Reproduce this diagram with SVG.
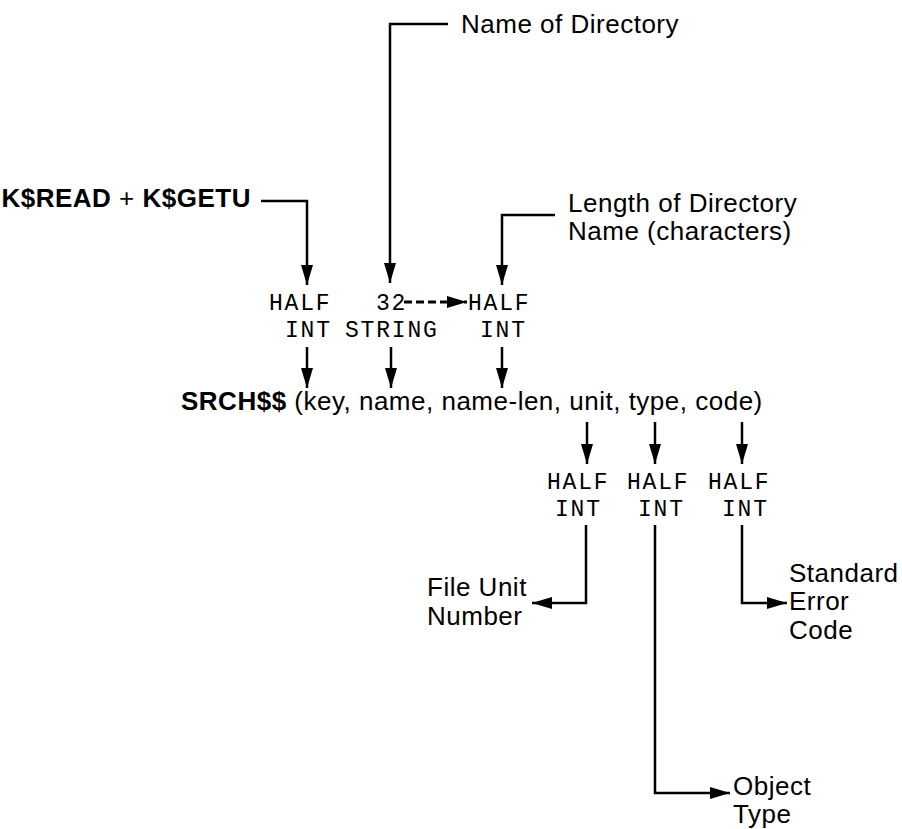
<svg xmlns="http://www.w3.org/2000/svg" width="902" height="829" viewBox="0 0 902 829">
<defs>
<marker id="ah" viewBox="0 0 20 12" refX="20" refY="6" markerWidth="20" markerHeight="12" markerUnits="userSpaceOnUse" orient="auto">
<path d="M0,0 L20,6 L0,12 Z" fill="#000"/>
</marker>
</defs>
<style>
.lbl{font-family:"Liberation Sans",Arial,sans-serif;font-size:26px;fill:#000;letter-spacing:0.5px}
.b{font-weight:bold}
.mono{font-family:"Liberation Mono","Courier New",monospace;font-size:23px;letter-spacing:1.8px;fill:#000}
.ln{fill:none;stroke:#000;stroke-width:2.5}
.dash{fill:none;stroke:#000;stroke-width:3;stroke-dasharray:8,4}
</style>
<rect width="902" height="829" fill="#fff"/>
<g id="connectors">
<path class="ln" d="M448,24 H390 V283" marker-end="url(#ah)"/>
<path class="ln" d="M261,201 H307 V285" marker-end="url(#ah)"/>
<path class="ln" d="M555,215 H502 V285" marker-end="url(#ah)"/>
<path class="dash" d="M404,302 H467" marker-end="url(#ah)"/>
<path class="ln" d="M307,347 V388" marker-end="url(#ah)"/>
<path class="ln" d="M391,347 V388" marker-end="url(#ah)"/>
<path class="ln" d="M502,347 V388" marker-end="url(#ah)"/>
<path class="ln" d="M587,422 V464" marker-end="url(#ah)"/>
<path class="ln" d="M655,422 V464" marker-end="url(#ah)"/>
<path class="ln" d="M742,422 V464" marker-end="url(#ah)"/>
<path class="ln" d="M586,525 V603 H532" marker-end="url(#ah)"/>
<path class="ln" d="M655,525 V793 H730" marker-end="url(#ah)"/>
<path class="ln" d="M742,525 V603 H787" marker-end="url(#ah)"/>
</g>
<g id="name-of-directory"><text class="lbl" x="461" y="33">Name of Directory</text></g>
<g id="kread-kgetu"><text class="lbl b" x="251" y="207" text-anchor="end">K$READ<tspan font-weight="normal"> + </tspan>K$GETU</text></g>
<g id="length-of-name"><text class="lbl" x="568" y="212">Length of Directory</text><text class="lbl" x="568" y="240">Name (characters)</text></g>
<g id="key-type"><text class="mono" x="269" y="310">HALF</text><text class="mono" x="285" y="337">INT</text></g>
<g id="name-type"><text class="mono" x="376" y="310">32</text><text class="mono" x="345" y="337">STRING</text></g>
<g id="namelen-type"><text class="mono" x="468" y="310">HALF</text><text class="mono" x="480" y="337">INT</text></g>
<g id="call"><text class="lbl" x="181" y="410"><tspan font-weight="bold">SRCH$$</tspan> (key, name, name-len, unit, type, code)</text></g>
<g id="unit-type"><text class="mono" x="547" y="489">HALF</text><text class="mono" x="555" y="516">INT</text></g>
<g id="type-type"><text class="mono" x="627" y="489">HALF</text><text class="mono" x="638" y="516">INT</text></g>
<g id="code-type"><text class="mono" x="708" y="489">HALF</text><text class="mono" x="722" y="516">INT</text></g>
<g id="file-unit"><text class="lbl" x="427" y="596">File Unit</text><text class="lbl" x="427" y="625">Number</text></g>
<g id="std-error"><text class="lbl" x="789" y="582">Standard</text><text class="lbl" x="789" y="610">Error</text><text class="lbl" x="789" y="639">Code</text></g>
<g id="object-type"><text class="lbl" x="733" y="795">Object</text><text class="lbl" x="733" y="823">Type</text></g>
</svg>
